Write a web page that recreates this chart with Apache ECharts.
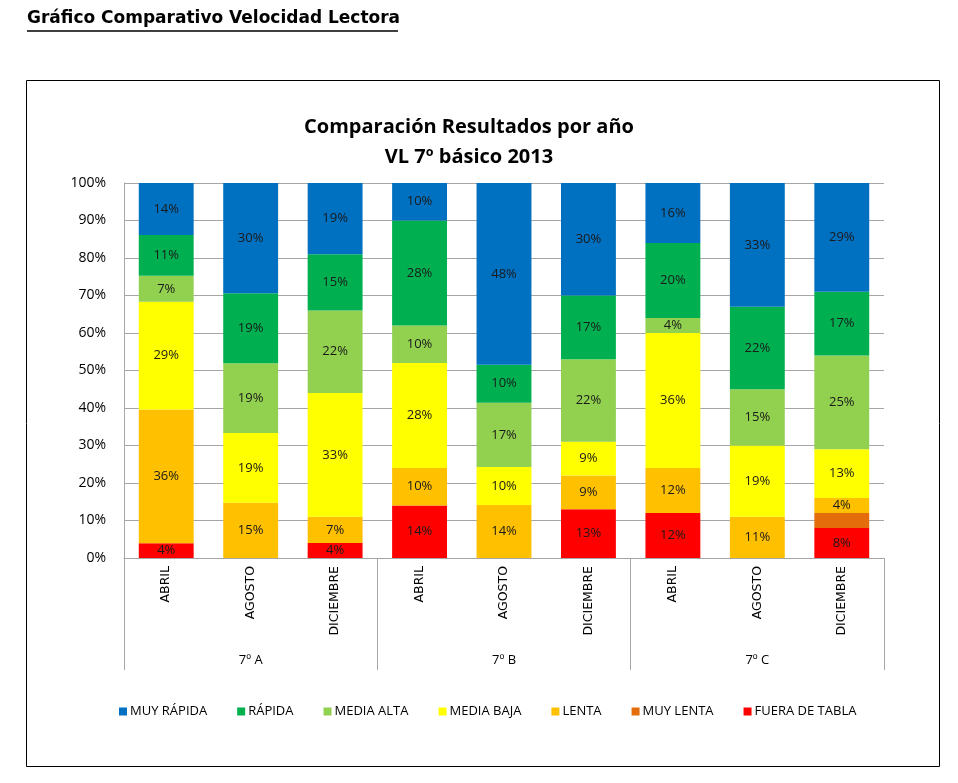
<!DOCTYPE html>
<html>
<head>
<meta charset="utf-8">
<script src="https://cdn.jsdelivr.net/npm/echarts@6/dist/echarts.min.js"></script>
<style>
html,body{margin:0;padding:0;background:#fff;}
#chart{width:958px;height:783px;}
</style>
</head>
<body>
<div id="chart"></div>
<script>
// datos (porcentajes mostrados)
var meses = ['ABRIL','AGOSTO','DICIEMBRE','ABRIL','AGOSTO','DICIEMBRE','ABRIL','AGOSTO','DICIEMBRE'];
var cursos = ['7º A','7º B','7º C'];
var ticksY = [0,10,20,30,40,50,60,70,80,90,100];

var fueraDeTabla = [4,0,4,14,0,13,12,0,8];
var muyLenta     = [0,0,0,0,0,0,0,0,4];
var lenta        = [36,15,7,10,14,9,12,11,4];
var mediaBaja    = [29,19,33,28,10,9,36,19,13];
var mediaAlta    = [7,19,22,10,17,22,4,15,25];
var rapida       = [11,19,15,28,10,17,20,22,17];
var muyRapida    = [14,30,19,10,48,30,16,33,29];

var niveles = [
  {name:'FUERA DE TABLA', data:fueraDeTabla, color:'#FF0000', label:true},
  {name:'MUY LENTA', data:muyLenta, color:'#E46C0A', label:false},
  {name:'LENTA', data:lenta, color:'#FFC000', label:true},
  {name:'MEDIA BAJA', data:mediaBaja, color:'#FFFF00', label:true},
  {name:'MEDIA ALTA', data:mediaAlta, color:'#92D050', label:true},
  {name:'RÁPIDA', data:rapida, color:'#00B050', label:true},
  {name:'MUY RÁPIDA', data:muyRapida, color:'#0070C0', label:true}
];

// totales por columna, para apilar al 100%
var totales = meses.map(function(m,i){
  var s = 0;
  niveles.forEach(function(n){ s += n.data[i]; });
  return s;
});

var series = niveles.map(function(n){
  return {
    name:n.name,
    type:'bar',
    stack:'total',
    barWidth:'65%',
    itemStyle:{color:n.color},
    label:{
      show:n.label,
      position:'inside',
      color:'#1a1a1a',
      fontFamily:'Open Sans',
      fontSize:13,
      formatter:function(p){
        var v = n.data[p.dataIndex];
        return v ? v + '%' : '';
      }
    },
    data:n.data.map(function(v,i){ return v / totales[i] * 100; })
  };
});

var chart = echarts.init(document.getElementById('chart'));
var option = {
  animation:false,
  title:{
    text:'Comparación Resultados por año\nVL 7º básico 2013',
    left:464, top:107, textAlign:'center',
    textStyle:{fontFamily:'Open Sans', fontWeight:'bold', fontSize:20, lineHeight:30, color:'#000'}
  },
  legend:{
    data:['MUY RÁPIDA','RÁPIDA','MEDIA ALTA','MEDIA BAJA','LENTA','MUY LENTA','FUERA DE TABLA'],
    left:114, top:700,
    itemWidth:8, itemHeight:8, itemGap:30,
    icon:'rect',
    textStyle:{fontFamily:'Open Sans', fontSize:13, color:'#000', padding:[0,0,0,-2]}
  },
  grid:{left:124, right:74, top:183, bottom:225},
  xAxis:[{
    type:'category',
    data:meses,
    axisLine:{lineStyle:{color:'#a6a6a6'}},
    axisTick:{show:false},
    axisLabel:{rotate:90, margin:8, fontFamily:'DejaVu Sans', fontSize:12.5, color:'#000'}
  },{
    type:'category',
    data:cursos,
    position:'bottom',
    axisLine:{show:false},
    axisTick:{show:true, length:112, lineStyle:{color:'#a6a6a6'}},
    axisLabel:{margin:96, fontFamily:'Open Sans', fontSize:13, color:'#000'}
  }],
  yAxis:{
    type:'value',
    min:ticksY[0], max:ticksY[ticksY.length-1], interval:10,
    axisLine:{show:true, lineStyle:{color:'#a6a6a6'}},
    axisTick:{show:false},
    splitLine:{lineStyle:{color:'#a6a6a6'}},
    axisLabel:{formatter:'{value}%', margin:18, fontFamily:'Open Sans', fontSize:14, color:'#000'}
  },
  graphic:[
    {type:'text', left:27, top:10, style:{text:'Gráfico Comparativo Velocidad Lectora', font:'bold 17px "DejaVu Sans"', fill:'#000'}},
    {type:'line', shape:{x1:27, y1:31, x2:398, y2:31}, style:{stroke:'#000', lineWidth:1.5}},
    {type:'rect', shape:{x:26.5, y:80.5, width:913, height:686}, style:{fill:'none', stroke:'#000', lineWidth:1}, z:-1}
  ],
  series:series
};
chart.setOption(option);
</script>
</body>
</html>
